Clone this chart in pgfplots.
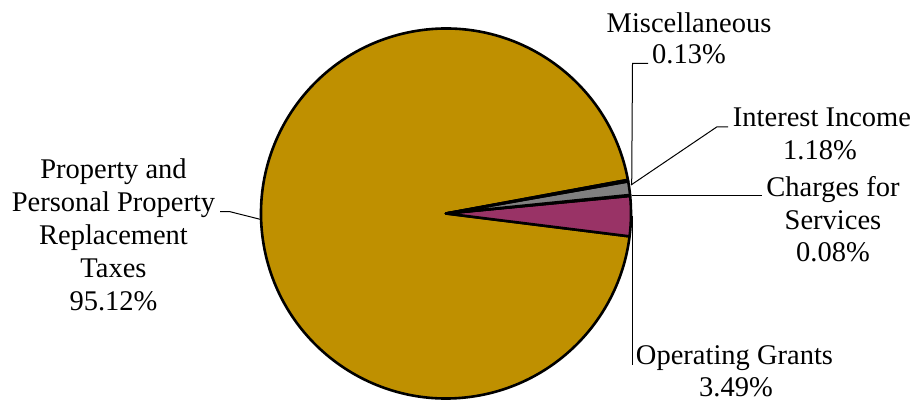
\documentclass[border=0pt]{standalone}
\usepackage{pgfplots}
\pgfplotsset{compat=1.18}
\usepackage{fontspec}
\setmainfont{Liberation Serif}
\definecolor{gold}{RGB}{191,144,0}
\definecolor{maroon}{RGB}{153,51,102}
\definecolor{greyslice}{RGB}{128,128,128}
\definecolor{charges}{RGB}{51,102,255}
\definecolor{misc}{RGB}{255,255,204}
% data (percent)
\def\vOG{3.49}   % Operating Grants
\def\vCS{0.08}   % Charges for Services
\def\vII{1.18}   % Interest Income
\def\vMI{0.13}   % Miscellaneous
\def\vPT{95.12}  % Property and Personal Property Replacement Taxes
\begin{document}
\begin{tikzpicture}
\pgfmathsetmacro\aA{-7.1}
\pgfmathsetmacro\aB{\aA+3.6*\vOG}
\pgfmathsetmacro\aC{\aB+3.6*\vCS}
\pgfmathsetmacro\aD{\aC+3.6*\vII}
\pgfmathsetmacro\aE{\aD+3.6*\vMI}
\pgfmathsetmacro\aF{\aE+3.6*\vPT}
\begin{axis}[hide axis, scale only axis, width=915bp, height=402bp,
  xmin=0, xmax=915, ymin=0, ymax=402, clip=false]
\coordinate (SW) at (axis cs:0,0);
\coordinate (NE) at (axis cs:915,402);
\tikzset{slice/.style={draw=black, line width=2.6bp, line join=round}}
\filldraw[slice, fill=gold] (axis cs:446,188.5) -- ++(\aE:185bp) arc[start angle=\aE, end angle=\aF, radius=185bp] -- cycle;
\filldraw[slice, fill=maroon] (axis cs:446,188.5) -- ++(\aA:185bp) arc[start angle=\aA, end angle=\aB, radius=185bp] -- cycle;
\filldraw[slice, fill=charges] (axis cs:446,188.5) -- ++(\aB:185bp) arc[start angle=\aB, end angle=\aC, radius=185bp] -- cycle;
\filldraw[slice, fill=greyslice] (axis cs:446,188.5) -- ++(\aC:185bp) arc[start angle=\aC, end angle=\aD, radius=185bp] -- cycle;
\filldraw[slice, fill=misc] (axis cs:446,188.5) -- ++(\aD:185bp) arc[start angle=\aD, end angle=\aE, radius=185bp] -- cycle;
% leader lines
\tikzset{lead/.style={draw=black, line width=1bp}}
\draw[lead] (axis cs:220,190.3) -- (axis cs:230,190.3) -- (axis cs:261,182.5);
\draw[lead] (axis cs:631.7,217) -- (axis cs:632.5,338.7) -- (axis cs:648,338.7);
\draw[lead] (axis cs:631,217) -- (axis cs:716.7,275) -- (axis cs:728,275);
\draw[lead] (axis cs:632,206.3) -- (axis cs:761.7,206.3);
\draw[lead] (axis cs:632.3,186) -- (axis cs:632.3,37);
% labels
\tikzset{lab/.style={anchor=base, inner sep=0pt, font=\fontsize{28.5bp}{33bp}\selectfont}}
\node[lab] at (axis cs:113.5,223) {Property and};
\node[lab] at (axis cs:113.5,190) {Personal Property};
\node[lab] at (axis cs:113.5,157) {Replacement};
\node[lab] at (axis cs:113.5,124) {Taxes};
\node[lab] at (axis cs:113.5,91) {95.12\%};
\node[lab] at (axis cs:689,369.7) {Miscellaneous};
\node[lab] at (axis cs:689,338) {0.13\%};
\node[lab] at (axis cs:822,275.3) {Interest Income};
\node[lab] at (axis cs:820,242) {1.18\%};
\node[lab] at (axis cs:833,205.3) {Charges for};
\node[lab] at (axis cs:833,172.7) {Services};
\node[lab] at (axis cs:833,140.3) {0.08\%};
\node[lab] at (axis cs:734.5,37) {Operating Grants};
\node[lab] at (axis cs:736,6) {3.49\%};
\end{axis}
\pgfresetboundingbox
\path[use as bounding box] (SW) rectangle (NE);
\end{tikzpicture}
\end{document}
